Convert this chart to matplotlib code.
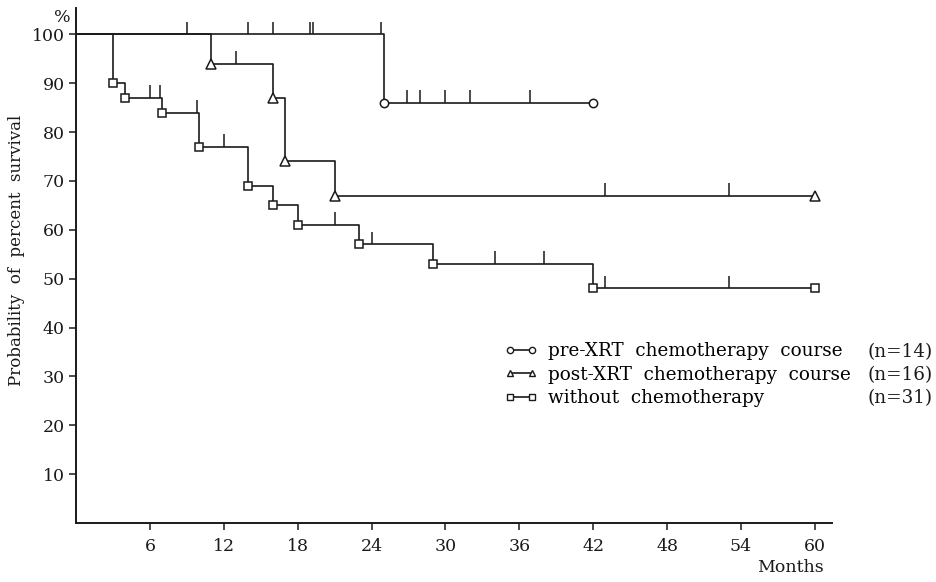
import matplotlib
matplotlib.use("Agg")
import matplotlib.pyplot as plt
from matplotlib.lines import Line2D

plt.rcParams['font.family'] = ['DejaVu Serif', 'Liberation Serif']

# ---- data ----
pre_t = [0, 25, 42]
pre_s = [100, 86, 86]
pre_cens_t = [9, 14, 16, 19, 19.25, 24.8, 26.9, 27.9, 30, 32, 36.9]
pre_cens_s = [100, 100, 100, 100, 100, 100, 86, 86, 86, 86, 86]

post_t = [0, 11, 16, 17, 21, 60]
post_s = [100, 94, 87, 74, 67, 67]
post_cens_t = [13, 43, 53]
post_cens_s = [94, 67, 67]

wo_t = [0, 3, 4, 7, 10, 14, 16, 18, 23, 29, 42, 60]
wo_s = [100, 90, 87, 84, 77, 69, 65, 61, 57, 53, 48, 48]
wo_cens_t = [6, 6.8, 9.8, 12, 21, 24, 34, 38, 43, 53]
wo_cens_s = [87, 87, 84, 77, 61, 57, 53, 53, 48, 48]

labels = ["pre-XRT  chemotherapy  course", "post-XRT  chemotherapy  course", "without  chemotherapy"]
ns = ["(n=14)", "(n=16)", "(n=31)"]
markers = ["o", "^", "s"]

xticks = [6, 12, 18, 24, 30, 36, 42, 48, 54, 60]
yticks = [10, 20, 30, 40, 50, 60, 70, 80, 90, 100]

# ---- figure ----
fig = plt.figure(figsize=(9.37, 5.82), dpi=100)
ax = fig.add_axes([76/937, 1-523/582, (832-76)/937, (523-8)/582])
ax.set_xlim(0, 61.4)
ax.set_ylim(0, 105.4)

lc = '#1a1a1a'
lw = 1.2
curves = [(pre_t, pre_s, pre_cens_t, pre_cens_s),
          (post_t, post_s, post_cens_t, post_cens_s),
          (wo_t, wo_s, wo_cens_t, wo_cens_s)]
msizes = [6, 6.5, 5.8]
for (t, s, ct, cs), m, ms in zip(curves, markers, msizes):
    ax.step(t, s, where='post', color=lc, lw=lw, zorder=2)
    ax.plot(t[1:], s[1:], linestyle='none', marker=m, ms=ms, mfc='white',
            mec=lc, mew=1.1, zorder=3)
    ax.vlines(ct, cs, [v + 2.6 for v in cs], color=lc, lw=1.1, zorder=2)

for sp in ['top', 'right']:
    ax.spines[sp].set_visible(False)
for sp in ['left', 'bottom']:
    ax.spines[sp].set_linewidth(1.4)
    ax.spines[sp].set_color(lc)

ax.set_xticks(xticks)
ax.set_xticklabels([str(v) for v in xticks])
ax.set_yticks(yticks)
ax.set_yticklabels([str(v) for v in yticks])
ax.tick_params(direction='out', length=5, width=1.1, colors=lc, labelsize=12.5, pad=3)
ax.tick_params(axis='x', pad=6)

ax.set_ylabel("Probability  of  percent  survival", fontsize=12, color=lc)
ax.yaxis.set_label_coords(-0.068, 0.53)

fig.text(62/937, 1-18/582, "%", fontsize=12.5, ha='center', va='center', color=lc)
fig.text(790/937, 1-568/582, "Months", fontsize=12.5, ha='center', va='center', color=lc)

handles = [Line2D([0], [0], color=lc, lw=1.2, marker=m, ms=4.5, mfc='white', mec=lc)
           for m in markers]
leg = ax.legend(handles, labels, numpoints=2, frameon=False, fontsize=13.2,
                loc='upper left', bbox_to_anchor=(505/937, 1-342/582),
                bbox_transform=fig.transFigure, handlelength=1.75, handletextpad=0.6,
                labelspacing=0.3, borderpad=0, borderaxespad=0)
for n, y in zip(ns, [352, 375, 398]):
    fig.text(933/937, 1-y/582, n, fontsize=13.2, ha='right', va='center', color=lc)

fig.savefig("out.png", dpi=100, facecolor='white')
